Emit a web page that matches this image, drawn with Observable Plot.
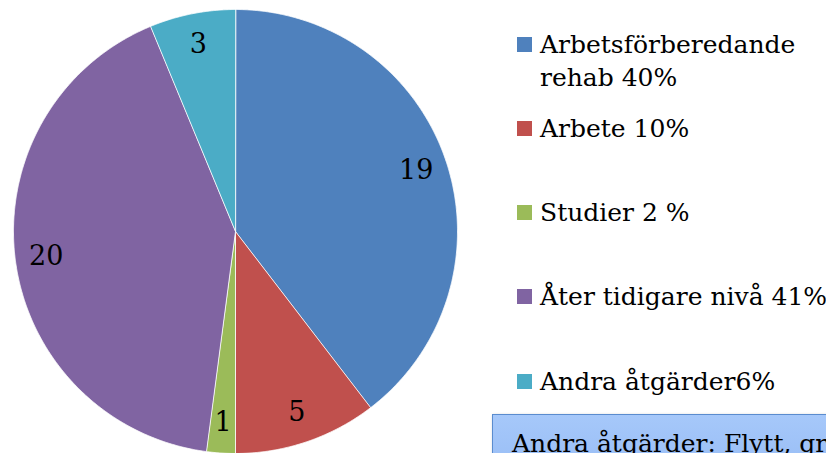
<!DOCTYPE html>
<html><head><meta charset="utf-8">
<script src="https://cdn.jsdelivr.net/npm/d3@7"></script>
<script src="https://cdn.jsdelivr.net/npm/@observablehq/plot@0.6"></script>
<style>
html,body{margin:0;padding:0;background:#fff;overflow:hidden}
#wrap{position:relative;width:826px;height:453px;overflow:hidden;font-family:"DejaVu Serif",serif}
#wrap svg{position:absolute;left:0;top:0}
.item{position:absolute;left:517px;display:flex;align-items:flex-start;font-size:25px;line-height:33px;color:#000;white-space:nowrap}
.sw{width:15px;height:15px;margin-top:9px;margin-right:8px;flex:none}
#note{position:absolute;left:492px;top:414px;width:400px;height:80px;border:1px solid #5a8ccf;background:linear-gradient(#a6c8fa,#93b9f3);box-shadow:1px 1px 3px rgba(0,0,0,0.25);font-size:25px;color:#000;white-space:nowrap}
#note span{position:absolute;left:19px;top:14px}
</style></head><body><div id="wrap"></div>
<script>
const categories = ["Arbetsförberedande rehab", "Arbete", "Studier", "Åter tidigare nivå", "Andra åtgärder"];
const values = [19, 5, 1, 20, 3];
const colors = ["#4F81BD", "#C0504D", "#9BBB59", "#8064A2", "#4BACC6"];
const legendLabels = ["Arbetsförberedande\nrehab 40%", "Arbete 10%", "Studier 2 %", "Åter tidigare nivå 41%", "Andra åtgärder6%"];
const noteText = "Andra åtgärder: Flytt, graviditet";

const R = 222;
const arcs = d3.pie().sort(null).value(d => d)(values);
const pts = [];
arcs.forEach((a, i) => {
  pts.push({cat: categories[i], x: 0, y: 0});
  const n = Math.max(4, Math.ceil((a.endAngle - a.startAngle) / 0.005));
  for (let j = 0; j <= n; j++) {
    const t = a.startAngle + (a.endAngle - a.startAngle) * j / n;
    pts.push({cat: categories[i], x: R * Math.sin(t), y: R * Math.cos(t)});
  }
});
const labels = arcs.map((a, i) => {
  const m = (a.startAngle + a.endAngle) / 2;
  return {cat: categories[i], v: values[i], x: 0.86 * R * Math.sin(m), y: 0.86 * R * Math.cos(m)};
});

const chart = Plot.plot({
  width: 826, height: 453, margin: 0,
  x: {domain: [-235, 591], axis: null},
  y: {domain: [-222, 231], axis: null},
  color: {domain: categories, range: colors},
  marks: [
    Plot.line(pts, {x: "x", y: "y", z: "cat", fill: "cat", stroke: "#fff", strokeWidth: 0.8, curve: "linear-closed"}),
    Plot.text(labels, {x: "x", y: "y", text: d => String(d.v), fontSize: 27, fontFamily: "DejaVu Serif", fill: "#000"})
  ]
});
const wrap = document.getElementById("wrap");
wrap.appendChild(chart);

legendLabels.forEach((t, i) => {
  const d = document.createElement("div");
  d.className = "item";
  d.style.top = (44 + i * 84.25 - 16.5) + "px";
  const s = document.createElement("div");
  s.className = "sw";
  s.style.background = colors[i];
  const tx = document.createElement("div");
  tx.innerHTML = t.split("\n").join("<br>");
  d.appendChild(s); d.appendChild(tx);
  wrap.appendChild(d);
});
const note = document.createElement("div");
note.id = "note";
note.innerHTML = "<span>" + noteText + "</span>";
wrap.appendChild(note);
</script>
</body></html>
